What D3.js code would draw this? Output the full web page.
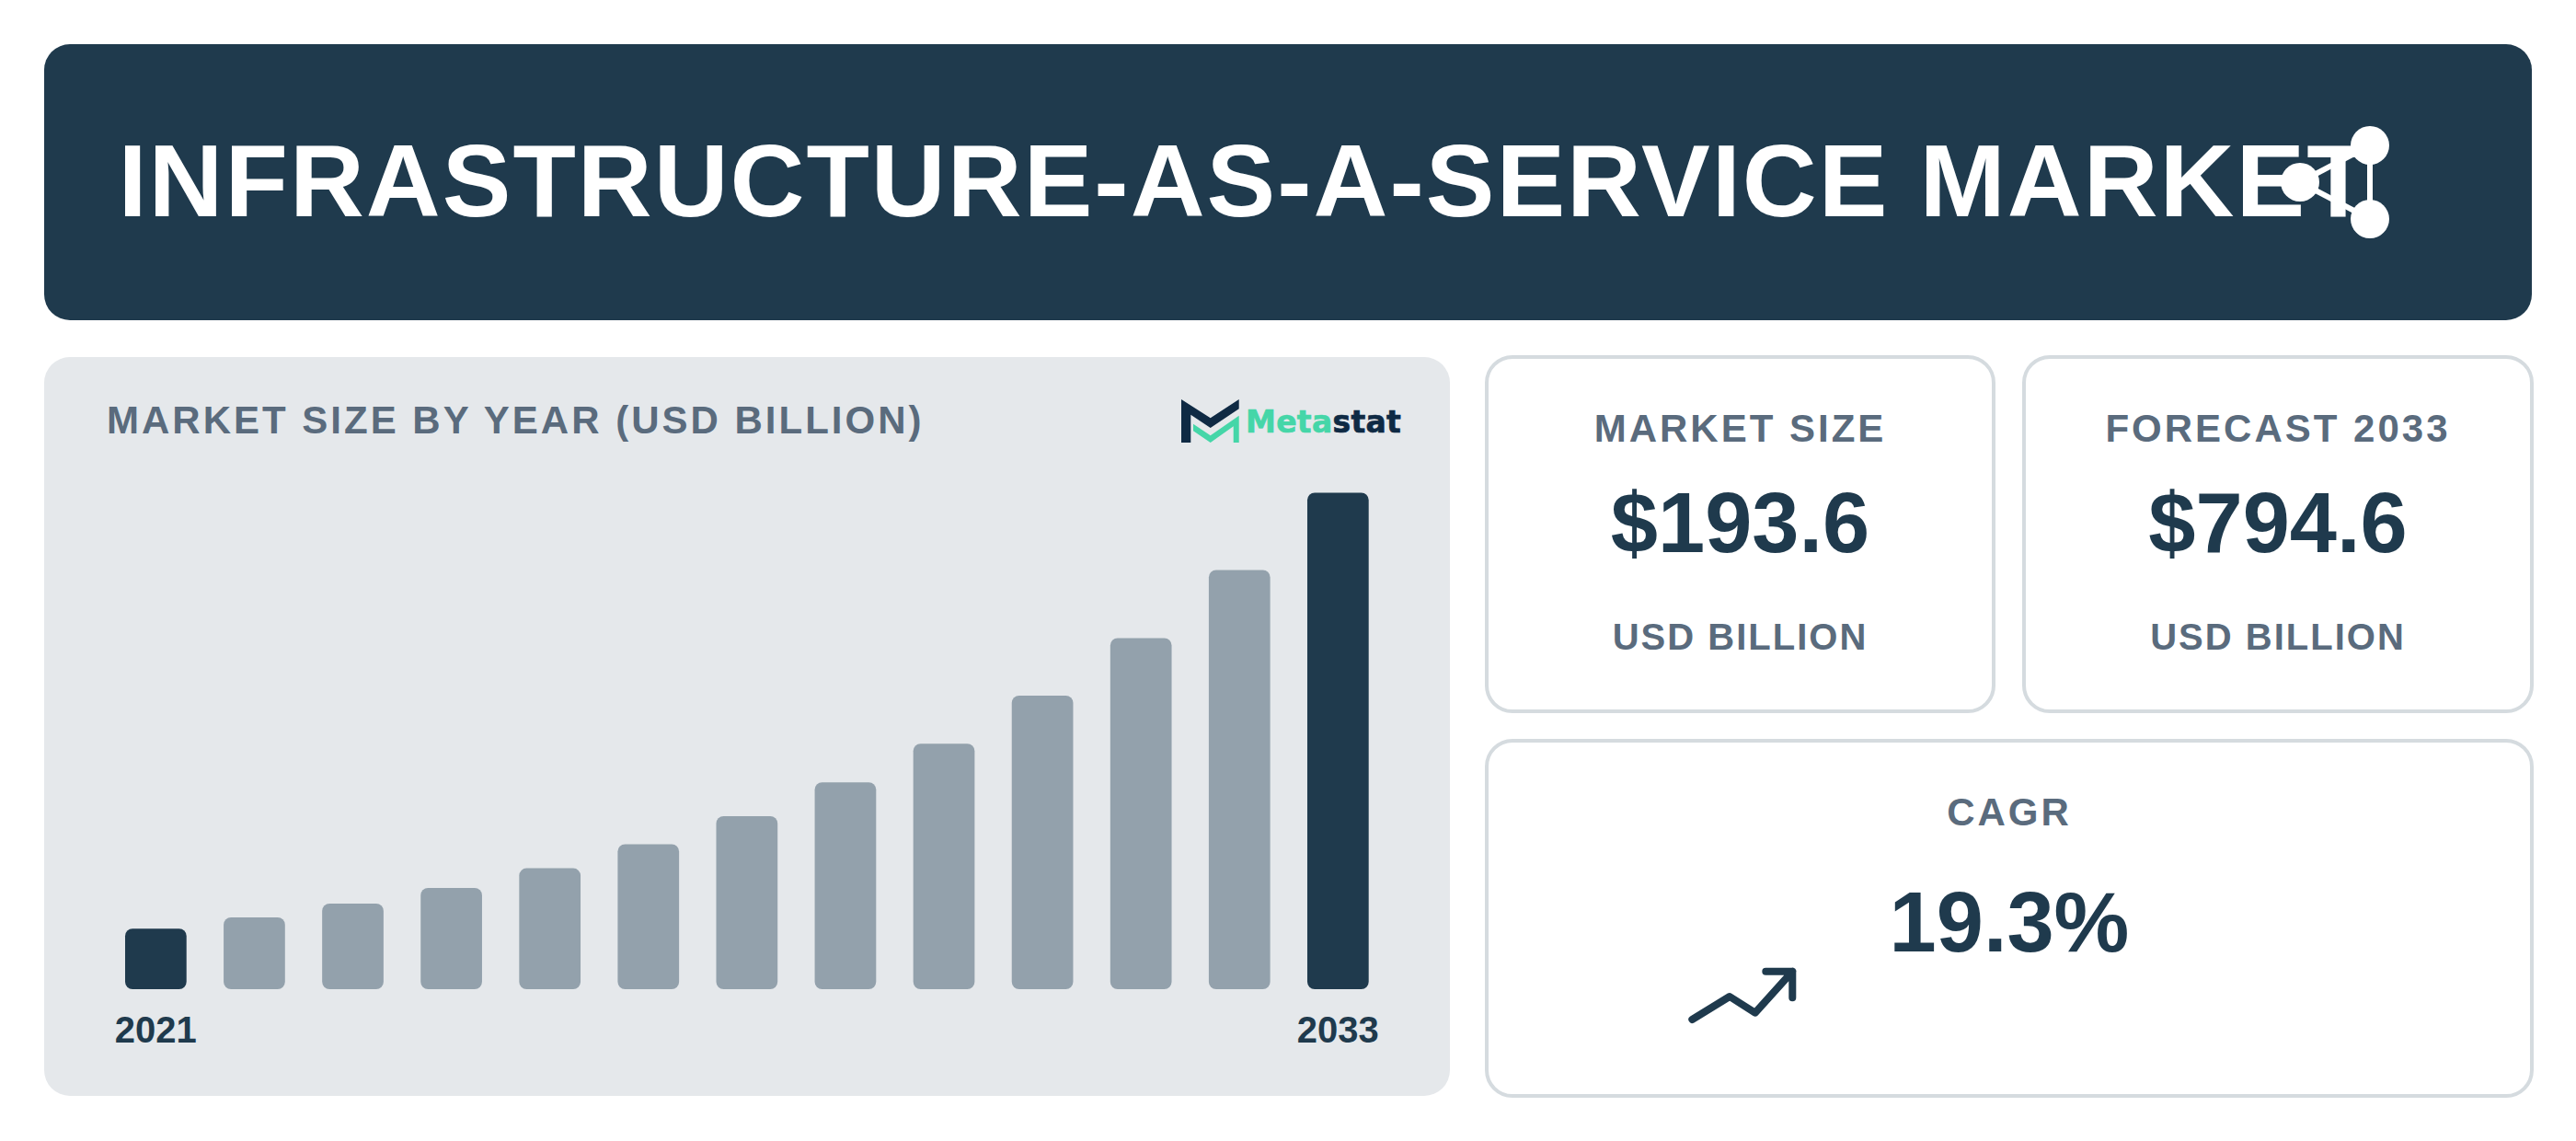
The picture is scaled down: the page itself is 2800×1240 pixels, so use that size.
<!DOCTYPE html>
<html><head><meta charset="utf-8">
<script src="https://cdn.jsdelivr.net/npm/d3@7"></script>
<style>
html,body{margin:0;padding:0;background:#fff;width:2800px;height:1240px;overflow:hidden}
text{font-family:"Liberation Sans",Arial,sans-serif}
</style></head><body><svg id="c" width="2800" height="1240" viewBox="0 0 2800 1240"></svg>
<script>
const title = "INFRASTRUCTURE-AS-A-SERVICE MARKET";
const chartTitle = "MARKET SIZE BY YEAR (USD BILLION)";
const years = [2021,2022,2023,2024,2025,2026,2027,2028,2029,2030,2031,2032,2033];
const values = [97,115,137,162,193.6,232,277,331,393,470,562,671,794.6];
const tickYears = [2021,2033];
const highlightYears = [2021,2033];
const cardLabels = ["MARKET SIZE","FORECAST 2033","CAGR"];
const cardValues = ["$193.6","$794.6","19.3%"];
const cardUnit = "USD BILLION";

const NAVY="#1f3a4d", GREY="#93a1ac", PANEL="#e5e8eb", MUTED="#5a6b7d", BORDER="#d5dbdf";
const svg=d3.select("#c");
svg.append("rect").attr("x",48).attr("y",48).attr("width",2704).attr("height",300).attr("rx",28).attr("fill",NAVY);
svg.append("text").attr("x",128.5).attr("y",235).attr("font-size",112).attr("font-weight",700).attr("letter-spacing",2).attr("fill","#fff").text(title);
// network icon
const net=svg.append("g").attr("fill","#fff").attr("stroke","#fff");
[[2576,158,2500,198],[2500,198,2576,238],[2576,158,2576,238]].forEach(l=>net.append("line").attr("x1",l[0]).attr("y1",l[1]).attr("x2",l[2]).attr("y2",l[3]).attr("stroke-width",6));
[[2576,158],[2500,198],[2576,238]].forEach(p=>net.append("circle").attr("cx",p[0]).attr("cy",p[1]).attr("r",21).attr("stroke","none"));

// chart panel
svg.append("rect").attr("x",48).attr("y",388).attr("width",1528).attr("height",803).attr("rx",28).attr("fill",PANEL);
svg.append("text").attr("x",116).attr("y",471).attr("font-size",42).attr("font-weight",700).attr("letter-spacing",3).attr("fill",MUTED).text(chartTitle);

const x=d3.scaleBand().domain(years).range([136,1487.7]).paddingInner(0.377).paddingOuter(0);
const y=d3.scaleLinear().domain([0,794.6]).range([1075,535.5]);
svg.append("g").selectAll("rect").data(values).join("rect")
 .attr("x",(d,i)=>x(years[i]))
 .attr("y",d=>y(d)).attr("width",x.bandwidth()).attr("height",d=>y(0)-y(d)).attr("rx",8)
 .attr("fill",(d,i)=>highlightYears.includes(years[i])?NAVY:GREY);
const ax=svg.append("g").attr("transform","translate(0,1075)").call(d3.axisBottom(x).tickValues(tickYears).tickSize(0).tickPadding(0));
ax.select(".domain").remove();
ax.selectAll("text").attr("y",57.5).attr("dy",0).attr("font-size",40).attr("font-weight",700).attr("fill",NAVY).attr("font-family","Liberation Sans");

// logo
const logo=svg.append("g");
logo.append("path").attr("d","M1284 434 L1315.7 454.3 L1346.7 434 L1346.7 444.3 L1315.7 465 L1294.3 450.7 L1294.3 481 L1284 481 Z").attr("fill","#0f2a44");
logo.append("path").attr("d","M1297 460.7 L1315.7 473.3 L1346.7 451.7 L1346.7 481 L1340.7 481 L1340.7 463.3 L1315.7 481 L1297 468.3 Z").attr("fill","#45d6a8");
const lt=logo.append("text").attr("x",1354).attr("y",470).attr("font-size",33).attr("font-weight",700).attr("letter-spacing",0.3).attr("stroke-width",0.7).attr("style","font-family:'DejaVu Sans'");
lt.append("tspan").attr("fill","#45d6a8").attr("stroke","#45d6a8").text("Meta");
lt.append("tspan").attr("fill","#0f2a44").attr("stroke","#0f2a44").text("stat");

// cards
const cards=[{x:1616,y:388,w:551,h:385,cx:1891.5},{x:2200,y:388,w:552,h:385,cx:2476},{x:1616,y:805,w:1136,h:386,cx:2184}];
cards.forEach(c=>svg.append("rect").attr("x",c.x).attr("y",c.y).attr("width",c.w).attr("height",c.h).attr("rx",28).attr("fill","#fff").attr("stroke",BORDER).attr("stroke-width",4));
[0,1].forEach(i=>{
 const c=cards[i];
 svg.append("text").attr("x",c.cx).attr("y",480).attr("text-anchor","middle").attr("font-size",42).attr("font-weight",700).attr("letter-spacing",3).attr("fill",MUTED).text(cardLabels[i]);
 svg.append("text").attr("x",c.cx).attr("y",600).attr("text-anchor","middle").attr("font-size",92).attr("font-weight",700).attr("fill",NAVY).text(cardValues[i]);
 svg.append("text").attr("x",c.cx).attr("y",706).attr("text-anchor","middle").attr("font-size",40).attr("font-weight",700).attr("letter-spacing",2).attr("fill",MUTED).text(cardUnit);
});
svg.append("text").attr("x",cards[2].cx).attr("y",897).attr("text-anchor","middle").attr("font-size",42).attr("font-weight",700).attr("letter-spacing",3).attr("fill",MUTED).text(cardLabels[2]);
svg.append("text").attr("x",cards[2].cx).attr("y",1034).attr("text-anchor","middle").attr("font-size",92).attr("font-weight",700).attr("fill",NAVY).text(cardValues[2]);
svg.append("path").attr("d","M1839.3 1108 L1880 1083 L1907.7 1100.7 L1948.3 1055.7 M1919.3 1055.7 L1948.3 1055.7 L1948.3 1084.3").attr("fill","none").attr("stroke",NAVY).attr("stroke-width",8).attr("stroke-linecap","round").attr("stroke-linejoin","round");
</script></body></html>
